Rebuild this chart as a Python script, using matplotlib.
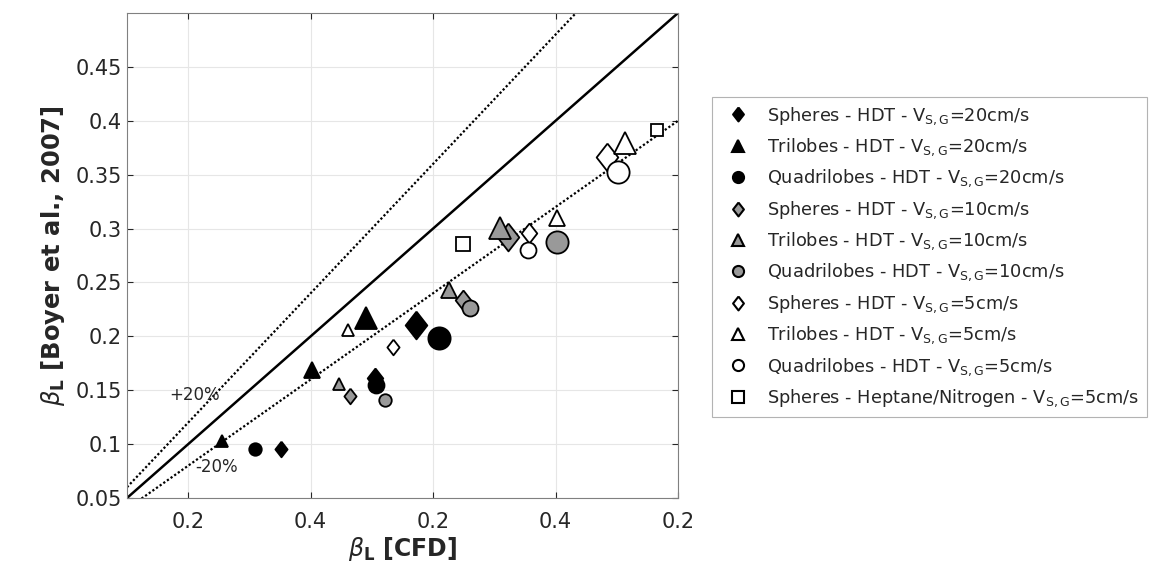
import numpy as np
import matplotlib
matplotlib.use("Agg")
import matplotlib.pyplot as plt
from matplotlib.lines import Line2D

# values: beta_L CFD (x) vs Boyer et al. (y)
sph20_x = [0.176, 0.2525, 0.286]
sph20_y = [0.0955, 0.161, 0.2105]
tri20_x = [0.1276, 0.201, 0.245]
tri20_y = [0.1029, 0.1688, 0.217]
quad20_x = [0.1545, 0.253, 0.3048]
quad20_y = [0.0955, 0.155, 0.1985]

sph10_x = [0.2321, 0.3244, 0.361]
sph10_y = [0.1446, 0.2337, 0.2922]
tri10_x = [0.2231, 0.313, 0.3546]
tri10_y = [0.1558, 0.243, 0.3005]
quad10_x = [0.2607, 0.33, 0.4012]
quad10_y = [0.1409, 0.2263, 0.2875]

sph5_x = [0.2672, 0.3783, 0.442]
sph5_y = [0.190, 0.2959, 0.3664]
tri5_x = [0.2305, 0.4012, 0.4567]
tri5_y = [0.2059, 0.3098, 0.3794]
quad5_x = [0.3775, 0.451]
quad5_y = [0.2801, 0.3525]

hept_x = [0.3244, 0.4829]
hept_y = [0.2857, 0.3915]

labels = [
    r"Spheres - HDT - V$_{\mathregular{S,G}}$=20cm/s",
    r"Trilobes - HDT - V$_{\mathregular{S,G}}$=20cm/s",
    r"Quadrilobes - HDT - V$_{\mathregular{S,G}}$=20cm/s",
    r"Spheres - HDT - V$_{\mathregular{S,G}}$=10cm/s",
    r"Trilobes - HDT - V$_{\mathregular{S,G}}$=10cm/s",
    r"Quadrilobes - HDT - V$_{\mathregular{S,G}}$=10cm/s",
    r"Spheres - HDT - V$_{\mathregular{S,G}}$=5cm/s",
    r"Trilobes - HDT - V$_{\mathregular{S,G}}$=5cm/s",
    r"Quadrilobes - HDT - V$_{\mathregular{S,G}}$=5cm/s",
    r"Spheres - Heptane/Nitrogen - V$_{\mathregular{S,G}}$=5cm/s",
]

x_ticks = [0.1, 0.2, 0.3, 0.4, 0.5]
x_ticklabels = ["0.2", "0.4", "0.2", "0.4", "0.2"]
y_ticks = [0.05, 0.1, 0.15, 0.2, 0.25, 0.3, 0.35, 0.4, 0.45]
y_ticklabels = ["0.05", "0.1", "0.15", "0.2", "0.25", "0.3", "0.35", "0.4", "0.45"]

gray = "#999999"
dark = "#262626"
# matlab-like diamond, a bit taller than wide
diamond = [(0, 1), (0.78, 0), (0, -1), (-0.78, 0), (0, 1)]

fig = plt.figure(figsize=(11.49, 5.87), dpi=100)
ax = fig.add_axes([127/1149, 1-498/587, 551/1149, 485/587])

# reference lines
xl = np.array([0.05, 0.5])
ax.plot(xl, xl, color="k", lw=1.8, zorder=1)
ax.plot(xl, 1.2*xl, color="k", lw=1.6, ls=(0, (1, 1)), zorder=1)
ax.plot(xl, 0.8*xl, color="k", lw=1.6, ls=(0, (1, 1)), zorder=1)

sizes3 = [9, 11.5, 16]
sizes2 = [11.5, 16]

series = [
    (sph20_x, sph20_y, diamond, "k", sizes3),
    (tri20_x, tri20_y, "^", "k", sizes3),
    (quad20_x, quad20_y, "o", "k", sizes3),
    (sph10_x, sph10_y, diamond, gray, sizes3),
    (tri10_x, tri10_y, "^", gray, sizes3),
    (quad10_x, quad10_y, "o", gray, sizes3),
    (sph5_x, sph5_y, diamond, "w", sizes3),
    (tri5_x, tri5_y, "^", "w", sizes3),
    (quad5_x, quad5_y, "o", "w", sizes2),
    (hept_x, hept_y, "s", "w", [9.5, 8.5]),
]

handles = []
for i, (xs, ys, m, fc, ss) in enumerate(series):
    k = 1.25 if m is diamond else 1.0
    for x, y, s in zip(xs, ys, ss):
        ax.plot(x, y, marker=m, ms=s*k, mfc=fc, mec="k", mew=1.3, ls="none", zorder=3+i)
    handles.append(Line2D([], [], marker=m, ms=8*k, mfc=fc, mec="k", mew=1.5, ls="none"))

ax.text(0.105, 0.1455, "+20%", fontsize=12, color=dark, ha="center", va="center")
ax.text(0.123, 0.0785, "-20%", fontsize=12, color=dark, ha="center", va="center")

ax.set_xlim(0.05, 0.5)
ax.set_ylim(0.05, 0.5)
ax.set_xticks(x_ticks)
ax.set_xticklabels(x_ticklabels)
ax.set_yticks(y_ticks)
ax.set_yticklabels(y_ticklabels)
ax.tick_params(direction="in", length=4, width=0.8, colors=dark, labelsize=15,
               top=True, right=True)
ax.tick_params(axis="x", pad=10)
ax.grid(True, color="#e6e6e6", lw=0.8)
ax.set_axisbelow(True)
for sp in ax.spines.values():
    sp.set_color("#808080")
    sp.set_linewidth(0.8)

ax.set_xlabel(r"$\beta_{\mathbf{L}}$ [CFD]", fontsize=17, fontweight="bold", color=dark, labelpad=2)
ax.set_ylabel(r"$\beta_{\mathbf{L}}$ [Boyer et al., 2007]", fontsize=17.5, fontweight="bold", color=dark, labelpad=6)

leg = fig.legend(handles, labels, loc="upper left", bbox_to_anchor=(712/1149, 1-97/587),
                 borderaxespad=0, fontsize=12.8, frameon=True, fancybox=False,
                 edgecolor="#a0a0a0", handletextpad=0.62, labelspacing=0.55,
                 borderpad=0.45, handlelength=2.0)
leg.get_frame().set_linewidth(0.8)
for t in leg.get_texts():
    t.set_color(dark)

fig.savefig("out.png", dpi=100)
